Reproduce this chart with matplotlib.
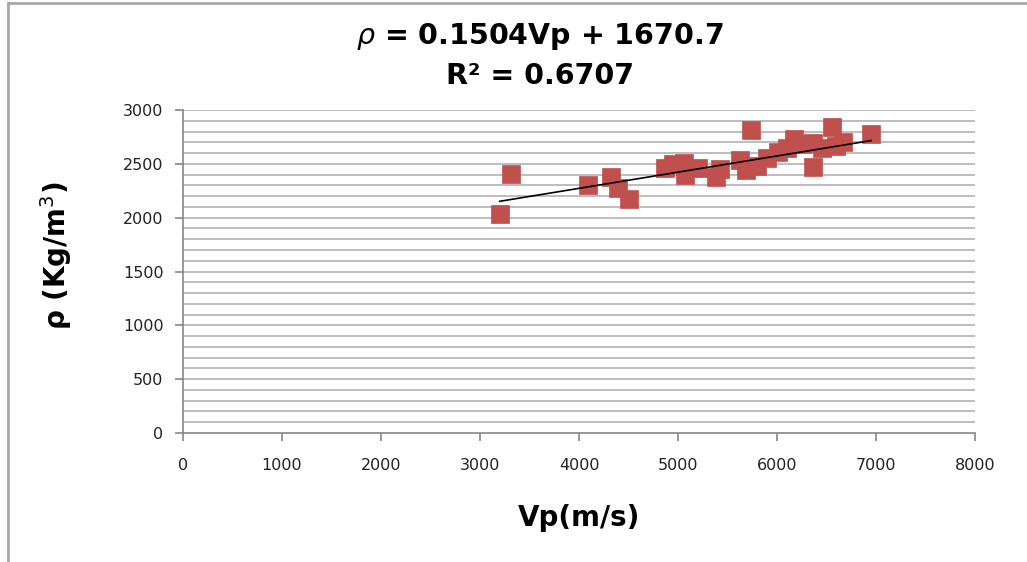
import matplotlib
matplotlib.use("Agg")
import matplotlib.pyplot as plt
from matplotlib.lines import Line2D
import numpy as np

vp = [3200, 3310, 4090, 4320, 4390, 4500, 4870, 4950, 5060, 5070, 5200, 5380,
      5420, 5630, 5690, 5740, 5800, 5900, 6010, 6100, 6170, 6250, 6360, 6360,
      6450, 6556, 6600, 6670, 6950]
rho = [2035, 2410, 2300, 2375, 2280, 2175, 2460, 2500, 2510, 2400, 2460, 2375,
       2450, 2535, 2445, 2815, 2480, 2550, 2610, 2650, 2730, 2680, 2470, 2690,
       2650, 2840, 2670, 2700, 2780]
slope = 0.1504
intercept = 1670.7
r2 = 0.6707
x_ticks = [0, 1000, 2000, 3000, 4000, 5000, 6000, 7000, 8000]
y_ticks = [0, 500, 1000, 1500, 2000, 2500, 3000]

fig = plt.figure(figsize=(10.27, 5.62), dpi=100)
ax = fig.add_axes([183/1027, 1-433/562, (975-183)/1027, (433-110)/562])

for yv in np.arange(100, 3001, 100):
    ax.axhline(yv, color='#b8b8b8', lw=1.3, zorder=0)

ax.scatter(vp, rho, marker='s', s=185, color='#c0504d', edgecolors='#c0504d', linewidths=0.5, zorder=2)
xs = np.array([min(vp), max(vp)])
ax.plot(xs, slope*xs + intercept, color='black', lw=1.2, zorder=3)

ax.set_xlim(0, 8000)
ax.set_ylim(0, 3000)
ax.set_xticks(x_ticks)
ax.set_yticks(y_ticks)
ax.set_xticklabels([str(v) for v in x_ticks])
ax.set_yticklabels([str(v) for v in y_ticks])
for s in ['top', 'right']:
    ax.spines[s].set_visible(False)
for s in ['left', 'bottom']:
    ax.spines[s].set_color('#868686')
    ax.spines[s].set_linewidth(1.2)
ax.tick_params(axis='both', direction='out', length=6, color='#868686', width=1.2,
               labelsize=11.5, labelcolor='#222222')
ax.tick_params(axis='x', pad=12)
ax.tick_params(axis='y', pad=8)

ax.set_xlabel('Vp(m/s)', fontsize=20, fontweight='bold', labelpad=22)
ax.set_ylabel(r'ρ (Kg/m$^{3}$)', fontsize=20, fontweight='bold')
ax.yaxis.set_label_coords(-0.137, 0.55)

fig.text(540/1027, 1-36/562, r'$\rho$ = 0.1504Vp + 1670.7', ha='center', va='center',
         fontsize=20.5, fontweight='bold')
fig.text(540/1027, 1-76/562, 'R² = 0.6707', ha='center', va='center',
         fontsize=20.5, fontweight='bold')

fig.add_artist(Line2D([8/1027, 8/1027], [0, 1-3/562], transform=fig.transFigure, color='#a8a8a8', lw=2))
fig.add_artist(Line2D([8/1027, 1], [1-3/562, 1-3/562], transform=fig.transFigure, color='#a8a8a8', lw=2))

fig.savefig('out.png', dpi=100)
